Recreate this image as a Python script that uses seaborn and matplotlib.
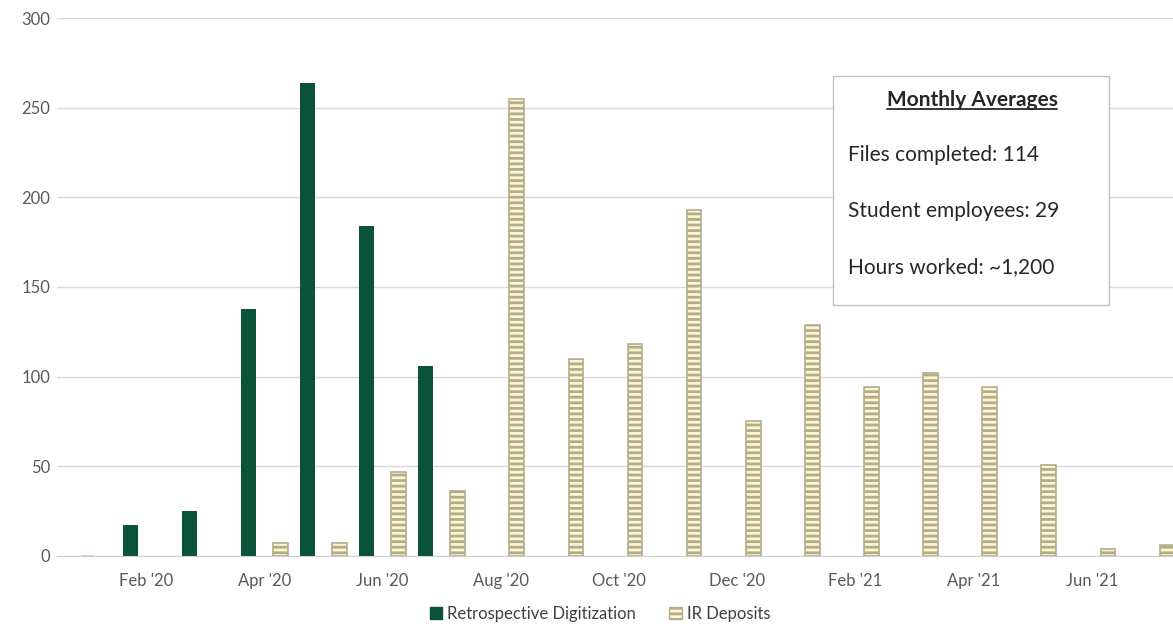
import pandas as pd
import seaborn as sns
import matplotlib.pyplot as plt
from matplotlib.patches import Rectangle, Patch
from matplotlib.lines import Line2D

# monthly files completed
months = ["Jan '20", "Feb '20", "Mar '20", "Apr '20", "May '20", "Jun '20", "Jul '20",
          "Aug '20", "Sep '20", "Oct '20", "Nov '20", "Dec '20", "Jan '21", "Feb '21",
          "Mar '21", "Apr '21", "May '21", "Jun '21", "Jul '21"]
retro = [0, 17, 25, 138, 264, 184, 106, 0, 0, 0, 0, 0, 0, 0, 0, 0, 0, 0, 0]
ir_deposits = [0, 0, 0, 7, 7, 47, 36, 255, 110, 118, 193, 75, 129, 94, 102, 94, 51, 4, 6]
other_months = ["Jan '20"]
other_vals = [1.2]

series_names = ["Retrospective Digitization", "IR Deposits"]
averages_title = "Monthly Averages"
averages_lines = ["Files completed: 114", "Student employees: 29", "Hours worked: ~1,200"]

green = "#0a5238"
ir_fill = "#fcf6d2"
ir_line = "#b4ad8b"
grey_txt = "#595959"

df = pd.DataFrame({
    "month": months * 2,
    "series": [series_names[0]] * len(months) + [series_names[1]] * len(months),
    "value": retro + ir_deposits,
})

sns.set_style("white")
plt.rcParams["font.family"] = ["Lato", "DejaVu Sans"]
plt.rcParams["hatch.linewidth"] = 2.0

fig = plt.figure(figsize=(11.73, 6.32), dpi=100)
ax = fig.add_axes([0.049, 0.1203, 0.9575, 0.8512])

sns.barplot(data=df, x="month", y="value", hue="series", order=months,
            hue_order=series_names, palette=[green, ir_fill], saturation=1,
            width=1.08, gap=0.54, errorbar=None, legend=False, ax=ax)

# small orange bar in Jan '20
sns.barplot(x=other_months, y=other_vals, order=months, color="#f2a987",
            saturation=1, width=0.25, errorbar=None, ax=ax)

for bar in ax.containers[0]:
    bar.set_linewidth(0)
for bar, v in zip(ax.containers[1], ir_deposits):
    if v == 0:
        bar.set_visible(False)
        continue
    bar.set_facecolor(ir_fill)
    bar.set_edgecolor(ir_line)
    bar.set_linewidth(1.2)
    bar.set_hatch("---")

ax.set_xlim(-0.5, len(months) - 0.5)
ax.set_ylim(0, 300)
ax.set_yticks(range(0, 301, 50))
ax.set_xticks(range(1, len(months), 2))
ax.set_xticklabels(months[1::2])
ax.set_xlabel("")
ax.set_ylabel("")
ax.grid(axis="y", color="#d9d9d9", linewidth=1)
ax.set_axisbelow(True)
for s in ["top", "right", "left"]:
    ax.spines[s].set_visible(False)
ax.spines["bottom"].set_color("#d0d0d0")
ax.tick_params(axis="both", length=0, labelsize=12, colors=grey_txt)
ax.tick_params(axis="y", pad=5)
ax.tick_params(axis="x", pad=12)

# legend
handles = [Patch(facecolor=green, edgecolor=green, label=series_names[0]),
           Patch(facecolor=ir_fill, edgecolor=ir_line, hatch="---", label=series_names[1])]
fig.legend(handles=handles, loc="center", bbox_to_anchor=(0.5115, 0.029), ncol=2,
           frameon=False, fontsize=12, handlelength=0.75, handleheight=0.75,
           handletextpad=0.3, columnspacing=2.0, labelcolor="#404040")

# averages box
fig.add_artist(Rectangle((0.710, 0.5174), 0.2354, 0.3623, transform=fig.transFigure,
                         facecolor="white", edgecolor="#bfbfbf", linewidth=1, zorder=5))
title = fig.text(0.8286, 0.8418, averages_title, ha="center", va="center",
                 fontsize=15, fontweight="bold", color="#262626", zorder=6)
for txt, y in zip(averages_lines, [0.7547, 0.6661, 0.5775]):
    fig.text(0.7229, y, txt, ha="left", va="center", fontsize=15,
             color="#262626", zorder=6)

# underline the box title
fig.canvas.draw()
bb = title.get_window_extent().transformed(fig.transFigure.inverted())
fig.add_artist(Line2D([bb.x0, bb.x1], [bb.y0 + 0.002, bb.y0 + 0.002],
                      transform=fig.transFigure, color="#262626", linewidth=1.3, zorder=6))

fig.savefig("out.png", dpi=100)
